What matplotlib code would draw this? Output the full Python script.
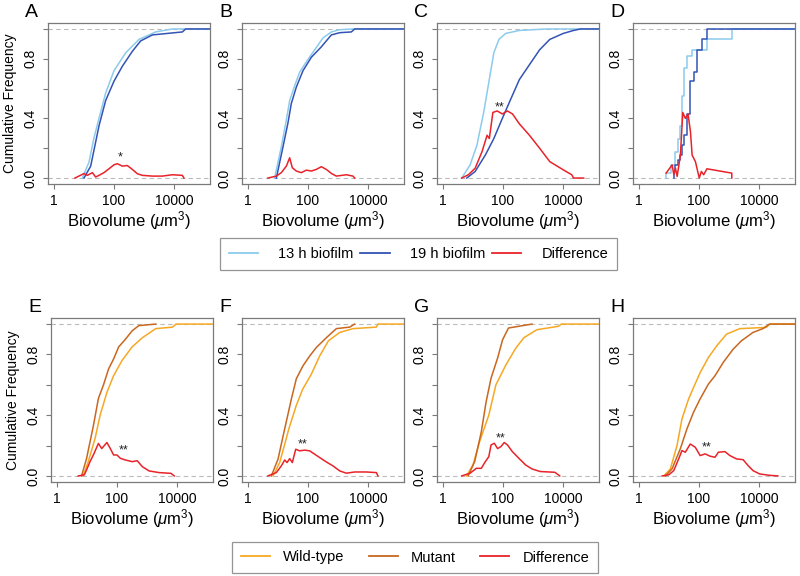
import numpy as np
import matplotlib.pyplot as plt
from matplotlib.lines import Line2D

plt.rcParams['font.family'] = ['Liberation Sans', 'DejaVu Sans']
plt.rcParams['mathtext.fontset'] = 'custom'
plt.rcParams['mathtext.rm'] = 'Liberation Sans'
plt.rcParams['mathtext.it'] = 'Liberation Sans:italic'

# ---- data (biovolume in um^3, cumulative frequency) ----
# A
a_early_x = [8.8, 14.7, 21.5, 31.6, 52.7, 100, 245, 681, 2450, 8800, 1e6]
a_early_y = [0, 0.107, 0.27, 0.40, 0.57, 0.72, 0.84, 0.93, 0.98, 1.0, 1.0]
a_late_x = [10, 16.7, 31.6, 52.7, 100, 190, 408, 774, 1900, 19000, 24500, 1e6]
a_late_y = [0, 0.08, 0.35, 0.52, 0.65, 0.75, 0.85, 0.92, 0.96, 0.98, 1.0, 1.0]
a_diff_x = [5, 10, 12.9, 19, 24.5, 31.6, 46, 68, 100, 129, 190, 278, 408, 600, 880, 1900, 4080, 8800, 19000, 21500]
a_diff_y = [0, 0.03, 0.018, 0.036, 0.007, 0.018, 0.036, 0.062, 0.089, 0.096, 0.08, 0.084, 0.058, 0.029, 0.018, 0.013, 0.013, 0.022, 0.018, 0]
# B
b_early_x = [7.7, 12.9, 19, 24.5, 36, 52.7, 88, 167, 316, 600, 1140, 3160, 1e6]
b_early_y = [0, 0.21, 0.39, 0.52, 0.62, 0.71, 0.78, 0.86, 0.94, 0.98, 0.995, 1.0, 1.0]
b_late_x = [8.8, 14.7, 21.5, 27.8, 40.8, 68, 129, 278, 600, 1140, 2780, 3600, 1e6]
b_late_y = [0, 0.21, 0.37, 0.50, 0.61, 0.72, 0.81, 0.88, 0.96, 0.975, 0.98, 1.0, 1.0]
b_diff_x = [4.6, 8.8, 12.9, 19, 24.5, 30, 40.8, 60, 88, 129, 190, 278, 408, 600, 880, 1900, 3160, 3600]
b_diff_y = [0, 0.013, 0.036, 0.08, 0.136, 0.069, 0.047, 0.036, 0.053, 0.047, 0.058, 0.076, 0.058, 0.031, 0.013, 0.022, 0.013, 0]
# C
c_early_x = [4.2, 8, 13.5, 22.7, 33.5, 49.5, 73, 123, 350, 2800, 1e6]
c_early_y = [0, 0.088, 0.22, 0.44, 0.64, 0.84, 0.93, 0.97, 0.99, 1.0, 1.0]
c_late_x = [6.2, 11.8, 25.9, 49.5, 95, 182, 350, 760, 1660, 3630, 10200, 22400, 38000, 1e6]
c_late_y = [0, 0.044, 0.155, 0.265, 0.40, 0.53, 0.66, 0.76, 0.86, 0.93, 0.97, 0.99, 1.0, 1.0]
c_diff_x = [4.2, 7, 11.8, 20, 29.5, 35, 46, 64, 95, 140, 207, 350, 760, 1660, 3630, 10200, 19600, 22400, 49000]
c_diff_y = [0, 0.022, 0.066, 0.177, 0.287, 0.265, 0.44, 0.45, 0.43, 0.45, 0.43, 0.364, 0.287, 0.2, 0.11, 0.055, 0.022, 0, 0]
# D (few cells -> step functions)
d_early_x = [8, 8, 12, 16.4, 20, 24, 28, 31, 40, 59, 184, 1240, 1e6]
d_early_y = [0, 0.033, 0.09, 0.176, 0.26, 0.35, 0.55, 0.74, 0.82, 0.86, 0.93, 1.0, 1.0]
d_late_x = [14.5, 14.5, 16.4, 20, 24, 28, 31, 40, 52, 66, 86, 126, 184, 1e6]
d_late_y = [0, 0.044, 0.088, 0.12, 0.154, 0.22, 0.286, 0.43, 0.65, 0.71, 0.86, 0.93, 1.0, 1.0]
d_diff_x = [8, 12.7, 14.5, 16.4, 18.7, 24, 28.8, 35, 43, 52, 59, 76, 102, 120, 143, 184, 1240, 1240]
d_diff_y = [0.033, 0.088, 0.022, 0.066, 0.011, 0.154, 0.44, 0.40, 0.43, 0.31, 0.154, 0.11, 0, 0.044, 0.022, 0.062, 0.033, 0]
# E
e_wt_x = [7.5, 11, 18.6, 27.4, 46, 77, 147, 320, 700, 1950, 7100, 9250, 1e6]
e_wt_y = [0, 0.094, 0.247, 0.40, 0.55, 0.66, 0.76, 0.85, 0.91, 0.97, 0.98, 1.0, 1.0]
e_mut_x = [6.6, 9.7, 16.3, 24, 35.5, 52.5, 77, 114, 191, 320, 537, 1950]
e_mut_y = [0, 0.116, 0.33, 0.51, 0.60, 0.705, 0.77, 0.85, 0.90, 0.956, 0.99, 1.0]
e_diff_x = [5.1, 8.1, 9.7, 12.6, 16.3, 24, 31, 46, 60, 77, 100, 129, 191, 320, 472, 700, 1170, 2520, 6300, 8130]
e_diff_y = [0, 0.007, 0.04, 0.094, 0.138, 0.214, 0.18, 0.22, 0.18, 0.138, 0.138, 0.116, 0.105, 0.094, 0.10, 0.061, 0.033, 0.022, 0.017, 0]
# F
f_wt_x = [6.8, 11.4, 23, 40, 66, 129, 245, 480, 1140, 3160, 19000, 21500, 1e6]
f_wt_y = [0, 0.088, 0.31, 0.46, 0.57, 0.67, 0.79, 0.89, 0.945, 0.97, 0.98, 1.0, 1.0]
f_mut_x = [6, 10, 16.7, 27.8, 40.8, 68, 114, 190, 408, 880, 2450, 3600]
f_mut_y = [0, 0.11, 0.31, 0.505, 0.64, 0.725, 0.79, 0.846, 0.91, 0.97, 0.98, 1.0]
f_diff_x = [4.6, 8.8, 12.9, 16.7, 20, 24.5, 30, 39, 52.7, 77, 114, 167, 245, 408, 681, 1140, 1900, 3600, 8800, 19000, 21500]
f_diff_y = [0, 0.022, 0.066, 0.105, 0.088, 0.114, 0.088, 0.176, 0.165, 0.17, 0.165, 0.143, 0.121, 0.092, 0.066, 0.033, 0.018, 0.026, 0.026, 0.022, 0]
# G
g_wt_x = [6.1, 10, 16.6, 33.6, 58, 124, 264, 494, 1350, 6900, 8900, 1e6]
g_wt_y = [0, 0.073, 0.226, 0.40, 0.60, 0.73, 0.84, 0.91, 0.963, 0.985, 1.0, 1.0]
g_mut_x = [6.9, 11.4, 18.9, 27.5, 40, 66, 97, 152, 925]
g_mut_y = [0, 0.095, 0.29, 0.49, 0.644, 0.776, 0.897, 0.974, 1.0]
g_diff_x = [4.2, 8, 12.9, 18.9, 26, 33.6, 40, 51.5, 66, 85, 110, 141, 205, 339, 560, 925, 1740, 5370, 7800]
g_diff_y = [0, 0.018, 0.05, 0.05, 0.095, 0.127, 0.204, 0.215, 0.18, 0.193, 0.22, 0.204, 0.16, 0.116, 0.073, 0.046, 0.029, 0.024, 0]
# H
h_wt_x = [6.7, 11.1, 18.5, 27, 45, 66, 109, 206, 390, 830, 2300, 17500, 22500, 1e6]
h_wt_y = [0, 0.046, 0.20, 0.375, 0.507, 0.583, 0.68, 0.78, 0.857, 0.934, 0.97, 0.978, 1.0, 1.0]
h_mut_x = [7.6, 12.6, 23.8, 39.6, 66, 109, 206, 342, 645, 1380, 2600, 6300, 13500, 22500, 1e6]
h_mut_y = [0, 0.046, 0.178, 0.31, 0.42, 0.507, 0.605, 0.66, 0.748, 0.835, 0.89, 0.945, 0.97, 1.0, 1.0]
h_diff_x = [5.9, 9.8, 14.4, 21, 27, 35, 51, 75, 109, 160, 234, 342, 442, 733, 1070, 1780, 2950, 4330, 6300, 10500, 22500, 42500]
h_diff_y = [0, 0.007, 0.035, 0.112, 0.167, 0.156, 0.21, 0.189, 0.134, 0.145, 0.13, 0.123, 0.156, 0.16, 0.134, 0.112, 0.107, 0.068, 0.035, 0.013, 0.004, 0]

panel_letters = ['A', 'B', 'C', 'D', 'E', 'F', 'G', 'H']
stars = {'A': ('*', 155, 0.135), 'C': ('**', 80, 0.475), 'E': ('**', 168, 0.165),
         'F': ('**', 68, 0.205), 'G': ('**', 85, 0.245), 'H': ('**', 173, 0.185)}

c_13h = '#8ccbec'
c_19h = '#3353b5'
c_wt = '#f7a823'
c_mut = '#c8671f'
c_diff = '#e8232a'
spine_c = '#7a7a7a'

top_curves = [
    [(a_early_x, a_early_y, c_13h), (a_late_x, a_late_y, c_19h), (a_diff_x, a_diff_y, c_diff)],
    [(b_early_x, b_early_y, c_13h), (b_late_x, b_late_y, c_19h), (b_diff_x, b_diff_y, c_diff)],
    [(c_early_x, c_early_y, c_13h), (c_late_x, c_late_y, c_19h), (c_diff_x, c_diff_y, c_diff)],
    [(d_early_x, d_early_y, c_13h), (d_late_x, d_late_y, c_19h), (d_diff_x, d_diff_y, c_diff)],
]
bottom_curves = [
    [(e_wt_x, e_wt_y, c_wt), (e_mut_x, e_mut_y, c_mut), (e_diff_x, e_diff_y, c_diff)],
    [(f_wt_x, f_wt_y, c_wt), (f_mut_x, f_mut_y, c_mut), (f_diff_x, f_diff_y, c_diff)],
    [(g_wt_x, g_wt_y, c_wt), (g_mut_x, g_mut_y, c_mut), (g_diff_x, g_diff_y, c_diff)],
    [(h_wt_x, h_wt_y, c_wt), (h_mut_x, h_mut_y, c_mut), (h_diff_x, h_diff_y, c_diff)],
]

W, H = 800, 576
fig = plt.figure(figsize=(W / 100, H / 100), dpi=100)


def make_axes(left, top, width, height):
    return fig.add_axes([left / W, 1 - (top + height) / H, width / W, height / H])


def draw_panel(ax, curves, letter, left, top, step=False):
    for k, (x, y, col) in enumerate(curves):
        if step and k < 2:
            ax.step(x, y, where='post', color=col, lw=1.1)
        else:
            ax.plot(x, y, color=col, lw=1.1)
    ax.axhline(0, color='#bbbbbb', lw=0.8, ls=(0, (4, 3)), zorder=0)
    ax.axhline(1, color='#bbbbbb', lw=0.8, ls=(0, (4, 3)), zorder=0)
    ax.set_xscale('log')
    ax.set_xlim(10 ** -0.2, 10 ** 5.2)
    ax.set_ylim(-0.04, 1.04)
    ax.set_xticks([1, 100, 10000])
    ax.set_xticklabels(['1', '100', '10000'])
    ax.xaxis.set_minor_locator(plt.NullLocator())
    ax.set_yticks([0, 0.2, 0.4, 0.6, 0.8, 1.0])
    ax.set_yticklabels(['0.0', '', '0.4', '', '0.8', ''], rotation=90, va='center')
    ax.tick_params(direction='out', length=3.8, width=0.8, color=spine_c,
                   labelsize=10, pad=3.5)
    for s in ax.spines.values():
        s.set_color(spine_c)
        s.set_linewidth(0.9)
    ax.set_xlabel(r'Biovolume ($\mu$m$^3$)', fontsize=12, labelpad=1)
    if letter in stars:
        txt, sx, sy = stars[letter]
        ax.text(sx, sy, txt, ha='center', va='center', fontsize=9, color='#222222')
    fig.text((left - 23) / W, 1 - (top - 19) / H, letter, fontsize=14,
             ha='left', va='top')


top_lefts = [48, 242, 437, 633]
bot_lefts = [51, 242, 437, 633]
for i in range(4):
    ax = make_axes(top_lefts[i], 23, 162, 161)
    draw_panel(ax, top_curves[i], panel_letters[i], top_lefts[i], 23, step=(i == 3))
    if i == 0:
        ax.set_ylabel('Cumulative Frequency', fontsize=10, labelpad=5)
for i in range(4):
    ax = make_axes(bot_lefts[i], 318, 162, 164)
    draw_panel(ax, bottom_curves[i], panel_letters[i + 4], bot_lefts[i], 318)
    if i == 0:
        ax.set_ylabel('Cumulative Frequency', fontsize=10, labelpad=5)

top_handles = [Line2D([], [], color=c, lw=1.3) for c in (c_13h, c_19h, c_diff)]
leg1 = fig.legend(top_handles, ['13 h biofilm', '19 h biofilm', 'Difference'],
                  loc='center', bbox_to_anchor=(220 / W, 1 - 272 / H, 397 / W, 36 / H),
                  ncol=3, mode='expand', fancybox=False, edgecolor=spine_c,
                  handlelength=2.0, handletextpad=1.4, borderaxespad=0,
                  fontsize=10.5, borderpad=0.6)
leg1.get_frame().set_linewidth(0.9)

bot_handles = [Line2D([], [], color=c, lw=1.3) for c in (c_wt, c_mut, c_diff)]
leg2 = fig.legend(bot_handles, ['Wild-type', 'Mutant', 'Difference'],
                  loc='center', bbox_to_anchor=(232 / W, 1 - 575 / H, 366 / W, 35 / H),
                  ncol=3, mode='expand', fancybox=False, edgecolor=spine_c,
                  handlelength=2.0, handletextpad=0.9, borderaxespad=0,
                  fontsize=10.5, borderpad=0.6)
leg2.get_frame().set_linewidth(0.9)

fig.savefig('out.png', dpi=100)
